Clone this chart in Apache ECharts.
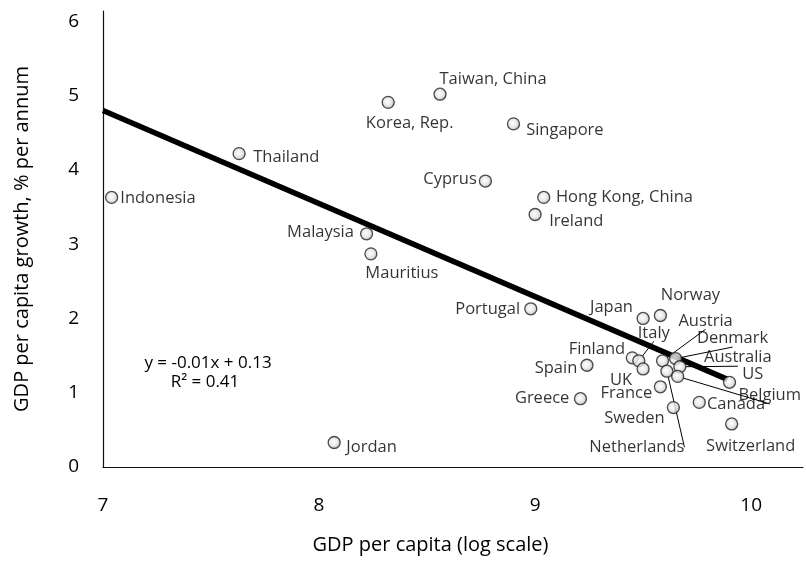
<!DOCTYPE html>
<html>
<head>
<meta charset="utf-8">
<script src="https://cdn.jsdelivr.net/npm/echarts@6/dist/echarts.min.js"></script>
<style>
  html, body { margin: 0; padding: 0; background: #fff; }
  #chart { width: 806px; height: 562px; }
</style>
</head>
<body>
<div id="chart"></div>
<script>
// Country observations: log GDP per capita vs. annual per-capita growth (%)
const countries = [
  'Indonesia', 'Thailand', 'Korea, Rep.', 'Taiwan, China', 'Singapore', 'Cyprus',
  'Hong Kong, China', 'Ireland', 'Malaysia', 'Mauritius', 'Portugal', 'Jordan',
  'Greece', 'Spain', 'Japan', 'Norway', 'Finland', 'Italy', 'UK', 'Austria',
  'Denmark', 'Australia', 'Netherlands', 'Belgium', 'France', 'Sweden', 'US',
  'Canada', 'Switzerland'
];
const logGdp = [
  7.04, 7.63, 8.32, 8.56, 8.90, 8.77,
  9.04, 9.00, 8.22, 8.24, 8.98, 8.07,
  9.21, 9.24, 9.50, 9.58, 9.45, 9.48, 9.50, 9.59,
  9.65, 9.67, 9.61, 9.66, 9.58, 9.64, 9.90,
  9.76, 9.91
];
const growth = [
  3.63, 4.22, 4.91, 5.02, 4.62, 3.85,
  3.63, 3.40, 3.14, 2.87, 2.13, 0.33,
  0.92, 1.37, 2.00, 2.04, 1.47, 1.43, 1.32, 1.43,
  1.46, 1.35, 1.29, 1.22, 1.08, 0.80, 1.14,
  0.87, 0.58
];

// Axis tick labels
const xTicks = [7, 8, 9, 10];
const yTicks = [0, 1, 2, 3, 4, 5, 6];

// Fitted regression line (end points) and its annotation
const trendX = [7, 9.89];
const trendY = [4.80, 1.18];
const fitEquation = 'y = -0.01x + 0.13';
const fitR2 = 'R\u00B2 = 0.41';

const xTitle = 'GDP per capita (log scale)';
const yTitle = 'GDP per capita growth, % per annum';

// Label placement for each country: side, pixel nudge, and whether a guide line is drawn
const labelPlacement = {
  'Indonesia':        ['right', -3, 1],
  'Thailand':         ['right', 2.5, 4],
  'Korea, Rep.':      ['inside', 21.5, 21],
  'Taiwan, China':    ['inside', 53, -15],
  'Singapore':        ['right', 1, 6],
  'Cyprus':           ['left', 3, -2],
  'Hong Kong, China': ['right', 0.5, 0],
  'Ireland':          ['right', 2.5, 7],
  'Malaysia':         ['left', -1, -1.5],
  'Mauritius':        ['inside', 31, 19.5],
  'Portugal':         ['left', 1, 0],
  'Jordan':           ['right', 0.5, 4.5],
  'Greece':           ['left', 0.5, 0],
  'Spain':            ['left', 2, 3],
  'Japan':            ['left', 1.5, -11],
  'Norway':           ['inside', 30, -20],
  'Finland':          ['left', 4.5, -9],
  'Italy':            ['inside', 15, -28, true],
  'UK':               ['inside', -22, 11],
  'Austria':          ['inside', 43, -40, true],
  'Denmark':          ['inside', 57, -20, true],
  'Australia':        ['inside', 58, -9, true],
  'Netherlands':      ['inside', -30, 76, true],
  'Belgium':          ['inside', 92, 19, true],
  'France':           ['left', 3.5, 7],
  'Sweden':           ['left', 3, 11],
  'US':               ['right', 1, -8],
  'Canada':           ['right', -4, 2],
  'Switzerland':      ['inside', 19, 22]
};

const FONT = '"Open Sans", "DejaVu Sans", sans-serif';

const points = countries.map((name, i) => {
  const p = labelPlacement[name] || ['right', 0, 0];
  const item = {
    name: name,
    value: [logGdp[i], growth[i]],
    label: { position: p[0], offset: [p[1], p[2]] }
  };
  if (p[3]) {
    item.labelLine = { show: true };
  }
  return item;
});

const isTick = (list) => (v) => {
  const hit = list.find(t => Math.abs(t - v) < 1e-6);
  return hit === undefined ? '' : String(hit);
};

const chart = echarts.init(document.getElementById('chart'), null, { renderer: 'canvas' });

chart.setOption({
  backgroundColor: '#ffffff',
  animation: false,
  textStyle: { fontFamily: FONT, color: '#000' },
  grid: { left: 103, right: 0, top: 11, bottom: 95 },
  xAxis: {
    type: 'value',
    min: 7,
    max: 10.24,
    interval: 1,
    name: xTitle,
    nameLocation: 'middle',
    nameGap: 68,
    nameTextStyle: { fontFamily: FONT, fontSize: 20, color: '#000', padding: [0, 45, 0, 0] },
    axisLine: { show: true, onZero: false, lineStyle: { color: '#111', width: 1.2 } },
    axisTick: { show: false },
    splitLine: { show: false },
    axisLabel: { margin: 29, fontFamily: FONT, fontSize: 19, color: '#000', formatter: isTick(xTicks) }
  },
  yAxis: {
    type: 'value',
    min: 0,
    max: 6.14,
    interval: 1,
    name: yTitle,
    nameLocation: 'middle',
    nameGap: 71,
    nameTextStyle: { fontFamily: FONT, fontSize: 20, color: '#000' },
    axisLine: { show: true, onZero: false, lineStyle: { color: '#111', width: 1.2 } },
    axisTick: { show: false },
    splitLine: { show: false },
    axisLabel: { margin: 24, fontFamily: FONT, fontSize: 19, color: '#000', formatter: isTick(yTicks) }
  },
  graphic: [
    {
      type: 'text', x: 208, y: 363, z: 10,
      style: { text: fitEquation, fontFamily: FONT, fontSize: 17, fill: '#000', textAlign: 'center', textVerticalAlign: 'middle' }
    },
    {
      type: 'text', x: 205, y: 382, z: 10,
      style: { text: fitR2, fontFamily: FONT, fontSize: 17, fill: '#000', textAlign: 'center', textVerticalAlign: 'middle' }
    }
  ],
  series: [
    {
      type: 'line',
      data: trendX.map((x, i) => [x, trendY[i]]),
      symbol: 'none',
      z: 2,
      lineStyle: { color: '#000', width: 5.5, cap: 'butt' },
      silent: true
    },
    {
      type: 'scatter',
      data: points,
      z: 3,
      symbol: 'circle',
      symbolSize: 12,
      itemStyle: {
        color: new echarts.graphic.RadialGradient(0.45, 0.45, 0.6, [
          { offset: 0, color: '#ffffff' },
          { offset: 0.55, color: '#e0e0e0' },
          { offset: 1, color: '#8a8a8a' }
        ]),
        borderColor: '#222',
        borderWidth: 1.3
      },
      label: {
        show: true,
        formatter: '{b}',
        distance: 5,
        fontFamily: FONT,
        fontSize: 16.5,
        color: '#000'
      },
      labelLine: {
        show: false,
        lineStyle: { color: '#000', width: 1 }
      }
    }
  ]
});
</script>
</body>
</html>
